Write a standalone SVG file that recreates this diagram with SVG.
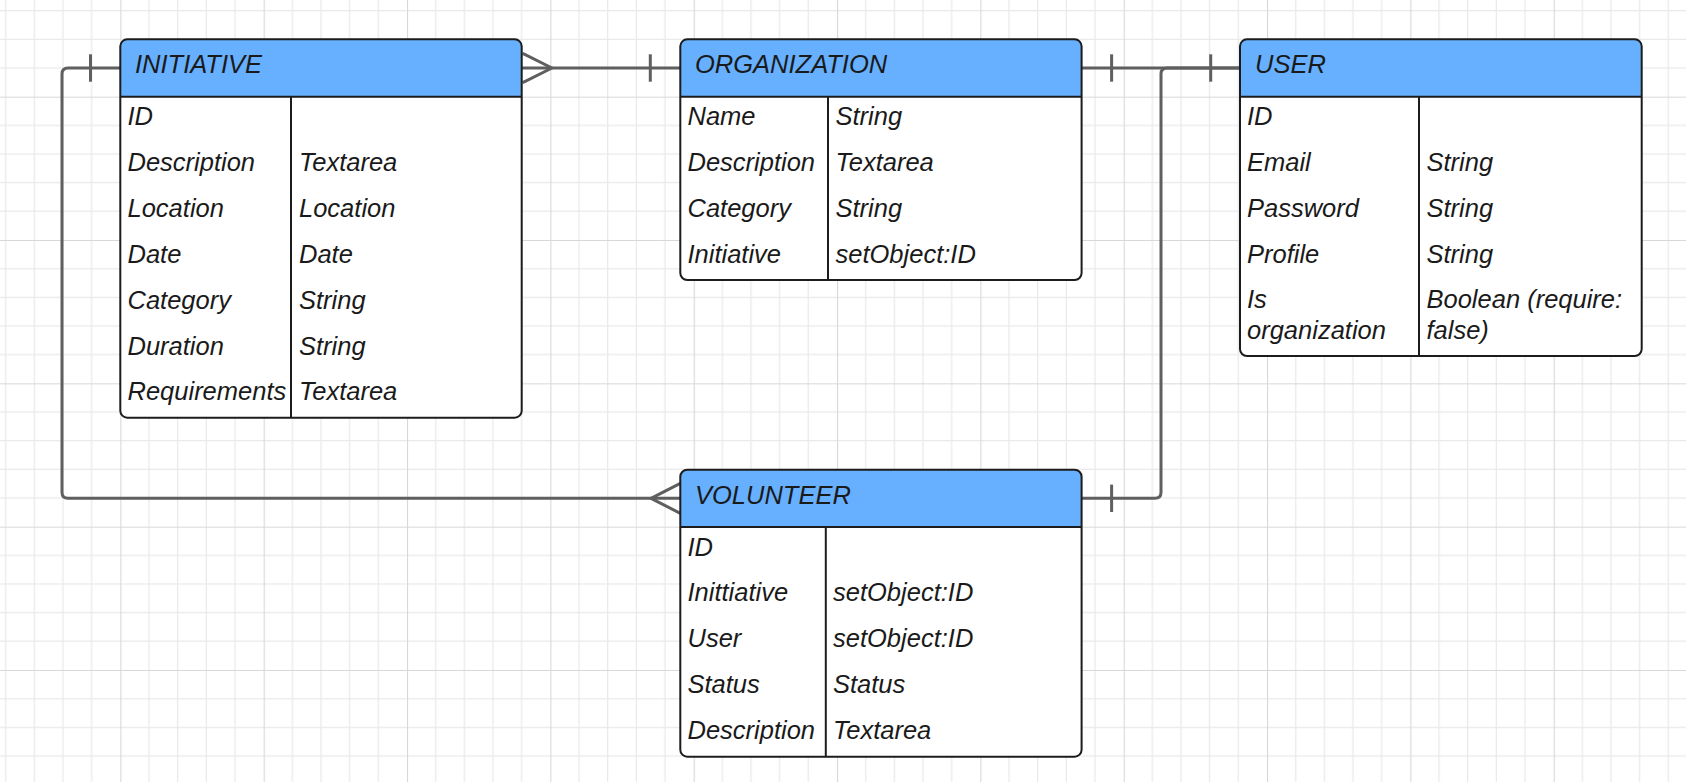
<svg xmlns="http://www.w3.org/2000/svg" width="1686" height="782" viewBox="0 0 1686 782">
  <style>
    .body { fill: #ffffff; stroke: none; }
    .hdr { fill: #66b0ff; stroke: none; }
    .frame { fill: none; stroke: #1c1c1c; stroke-width: 2; }
    .sep { stroke: #1c1c1c; stroke-width: 2; }
    .t { font-family: "Liberation Sans", Arial, sans-serif; font-style: italic; font-size: 25.5px; fill: #1a1a1a; }
    .conn { fill: none; stroke: #5f5f5f; stroke-width: 3; stroke-linejoin: round; }
  </style>
  <defs>
    <pattern id="grid" patternUnits="userSpaceOnUse" x="-23" y="-46.667" width="143.333" height="143.333">
      <rect width="143.333" height="143.333" fill="#ffffff"/>
      <path d="M28.667 0V143.333M57.333 0V143.333M86 0V143.333M114.667 0V143.333M0 28.667H143.333M0 57.333H143.333M0 86H143.333M0 114.667H143.333" stroke="#e9e9e9" stroke-width="1.2" fill="none"/>
      <path d="M0.5 0V143.333M0 0.5H143.333" stroke="#d8d8d8" stroke-width="1.2" fill="none"/>
    </pattern>
  </defs>
  <rect id="background" x="0" y="0" width="1686" height="782" fill="url(#grid)"/>

  <g id="connectors">
    <!-- INITIATIVE (one) to VOLUNTEER (many) -->
    <path class="conn" d="M120.3 68 H68 Q62 68 62 74 V492.3 Q62 498.3 68 498.3 H680.3"/>
    <line class="conn" x1="90.5" y1="54.3" x2="90.5" y2="81.7"/>
    <path class="conn" d="M680.3 483.3 L651 498.3 L680.3 513.3"/>
    <!-- INITIATIVE (many) to ORGANIZATION (one) -->
    <path class="conn" d="M521.7 68 H680.3"/>
    <path class="conn" d="M522.7 53.3 L552 68 L522.7 82.7"/>
    <line class="conn" x1="650.3" y1="54.3" x2="650.3" y2="81.7"/>
    <!-- ORGANIZATION (one) to USER (one) -->
    <path class="conn" d="M1081.6 68 H1240"/>
    <line class="conn" x1="1111.6" y1="54.3" x2="1111.6" y2="81.7"/>
    <line class="conn" x1="1210.7" y1="54.3" x2="1210.7" y2="81.7"/>
    <!-- USER (one) to VOLUNTEER (one) -->
    <path class="conn" d="M1240 68 H1167 Q1161 68 1161 74 V492.3 Q1161 498.3 1155 498.3 H1081.6"/>
    <line class="conn" x1="1111.6" y1="484.6" x2="1111.6" y2="512"/>
  </g>

  <g id="initiative">
    <rect class="body" x="120.3" y="39.3" width="401.4" height="378.4" rx="7"/>
    <path class="hdr" d="M120.3 96.7 V46.3 A7 7 0 0 1 127.3 39.3 H514.7 A7 7 0 0 1 521.7 46.3 V96.7 Z"/>
    <line class="sep" x1="120.3" y1="96.7" x2="521.7" y2="96.7"/>
    <line class="sep" x1="291" y1="96.7" x2="291" y2="417.7"/>
    <rect class="frame" x="120.3" y="39.3" width="401.4" height="378.4" rx="7"/>
    <text class="t" x="135" y="73.3">INITIATIVE</text>
    <text class="t" x="127.5" y="125.2">ID</text>
    <text class="t" x="127.5" y="171.1">Description</text>
    <text class="t" x="299" y="171.1">Textarea</text>
    <text class="t" x="127.5" y="217">Location</text>
    <text class="t" x="299" y="217">Location</text>
    <text class="t" x="127.5" y="262.8">Date</text>
    <text class="t" x="299" y="262.8">Date</text>
    <text class="t" x="127.5" y="308.7">Category</text>
    <text class="t" x="299" y="308.7">String</text>
    <text class="t" x="127.5" y="354.6">Duration</text>
    <text class="t" x="299" y="354.6">String</text>
    <text class="t" x="127.5" y="400.4">Requirements</text>
    <text class="t" x="299" y="400.4">Textarea</text>
  </g>

  <g id="organization">
    <rect class="body" x="680.3" y="39.3" width="401.3" height="240.8" rx="7"/>
    <path class="hdr" d="M680.3 96.7 V46.3 A7 7 0 0 1 687.3 39.3 H1074.6 A7 7 0 0 1 1081.6 46.3 V96.7 Z"/>
    <line class="sep" x1="680.3" y1="96.7" x2="1081.6" y2="96.7"/>
    <line class="sep" x1="828" y1="96.7" x2="828" y2="280.1"/>
    <rect class="frame" x="680.3" y="39.3" width="401.3" height="240.8" rx="7"/>
    <text class="t" x="695" y="73.3">ORGANIZATION</text>
    <text class="t" x="687.5" y="125.2">Name</text>
    <text class="t" x="835.5" y="125.2">String</text>
    <text class="t" x="687.5" y="171.1">Description</text>
    <text class="t" x="835.5" y="171.1">Textarea</text>
    <text class="t" x="687.5" y="217">Category</text>
    <text class="t" x="835.5" y="217">String</text>
    <text class="t" x="687.5" y="262.8">Initiative</text>
    <text class="t" x="835.5" y="262.8">setObject:ID</text>
  </g>

  <g id="user">
    <rect class="body" x="1240" y="39.3" width="401.7" height="316.7" rx="7"/>
    <path class="hdr" d="M1240 96.7 V46.3 A7 7 0 0 1 1247 39.3 H1634.7 A7 7 0 0 1 1641.7 46.3 V96.7 Z"/>
    <line class="sep" x1="1240" y1="96.7" x2="1641.7" y2="96.7"/>
    <line class="sep" x1="1419" y1="96.7" x2="1419" y2="356"/>
    <rect class="frame" x="1240" y="39.3" width="401.7" height="316.7" rx="7"/>
    <text class="t" x="1255" y="73.3">USER</text>
    <text class="t" x="1247" y="125.2">ID</text>
    <text class="t" x="1247" y="171.1">Email</text>
    <text class="t" x="1426.5" y="171.1">String</text>
    <text class="t" x="1247" y="217">Password</text>
    <text class="t" x="1426.5" y="217">String</text>
    <text class="t" x="1247" y="262.8">Profile</text>
    <text class="t" x="1426.5" y="262.8">String</text>
    <text class="t" x="1247" y="307.8">Is</text>
    <text class="t" x="1247" y="338.8">organization</text>
    <text class="t" x="1426.5" y="307.8">Boolean (require:</text>
    <text class="t" x="1426.5" y="338.8">false)</text>
  </g>

  <g id="volunteer">
    <rect class="body" x="680.3" y="469.7" width="401.3" height="287" rx="7"/>
    <path class="hdr" d="M680.3 527 V476.7 A7 7 0 0 1 687.3 469.7 H1074.6 A7 7 0 0 1 1081.6 476.7 V527 Z"/>
    <line class="sep" x1="680.3" y1="527" x2="1081.6" y2="527"/>
    <line class="sep" x1="825.8" y1="527" x2="825.8" y2="756.7"/>
    <rect class="frame" x="680.3" y="469.7" width="401.3" height="287" rx="7"/>
    <text class="t" x="695" y="503.5">VOLUNTEER</text>
    <text class="t" x="687.5" y="555.5">ID</text>
    <text class="t" x="687.5" y="601.4">Inittiative</text>
    <text class="t" x="833" y="601.4">setObject:ID</text>
    <text class="t" x="687.5" y="647.2">User</text>
    <text class="t" x="833" y="647.2">setObject:ID</text>
    <text class="t" x="687.5" y="693.1">Status</text>
    <text class="t" x="833" y="693.1">Status</text>
    <text class="t" x="687.5" y="739">Description</text>
    <text class="t" x="833" y="739">Textarea</text>
  </g>
</svg>
